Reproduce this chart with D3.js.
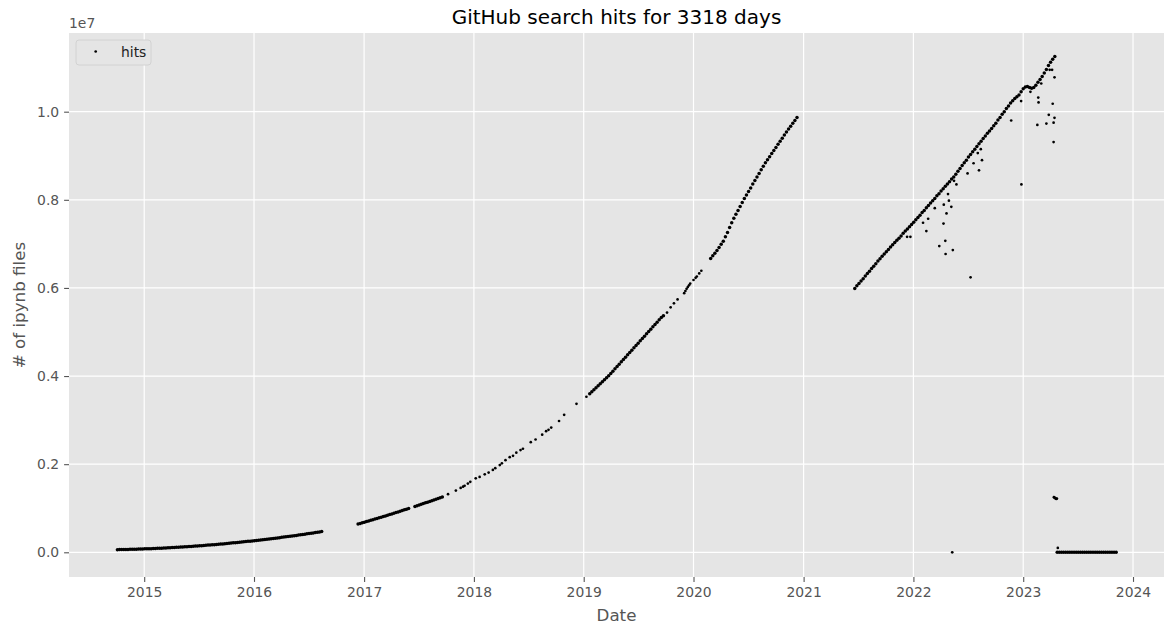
<!DOCTYPE html>
<html><head><meta charset="utf-8">
<script src="https://cdn.jsdelivr.net/npm/d3@7"></script>
<style>body{margin:0;background:#fff} svg{display:block} text{font-family:"DejaVu Sans",sans-serif}</style>
</head><body><svg id="c" width="1164" height="626"></svg>
<script>
// ---------------- data (values in millions of hits) ----------------
const titleText = "GitHub search hits for 3318 days";
const xLabel = "Date";
const yLabel = "# of ipynb files";
const legendLabel = "hits";
const yTickValues = [0, 2e6, 4e6, 6e6, 8e6, 10e6];
const yTickLabels = ["0.0", "0.2", "0.4", "0.6", "0.8", "1.0"];
const xTickYears = [2015, 2016, 2017, 2018, 2019, 2020, 2021, 2022, 2023, 2024];
const xDomain = ["2014-04-26", "2024-04-13"];
const yDomain = [-0.5606e6, 11.786e6];

// weekly readings, 2014-10-04 .. 2016-08-19
const seg2014Start = "2014-10-04";
const seg2014Values = [0.060,0.061,0.062,0.063,0.064,0.065,0.067,0.068,0.070,0.071,0.073,0.074,0.076,0.078,0.080,0.081,0.083,0.085,0.088,0.090,0.092,0.094,0.097,0.099,0.102,0.104,0.107,0.110,0.112,0.115,0.118,0.121,0.124,0.127,0.131,0.134,0.137,0.141,0.144,0.148,0.151,0.155,0.159,0.163,0.166,0.170,0.174,0.179,0.183,0.187,0.191,0.196,0.200,0.204,0.209,0.214,0.218,0.223,0.228,0.233,0.238,0.243,0.248,0.253,0.259,0.264,0.269,0.275,0.280,0.286,0.291,0.297,0.303,0.309,0.315,0.321,0.327,0.333,0.339,0.345,0.352,0.358,0.365,0.371,0.378,0.384,0.391,0.398,0.405,0.412,0.419,0.426,0.433,0.440,0.448,0.455,0.462,0.470];

// weekly readings, 2016-12-12 .. 2017-09-18 (null = no data)
const seg2017Start = "2016-12-12";
const seg2017Values = [0.642,0.656,0.670,0.684,0.698,0.712,0.726,0.740,0.754,0.768,0.782,0.796,0.810,0.825,0.841,0.856,0.871,0.887,0.902,0.917,0.932,0.948,0.963,0.978,0.994,null,null,1.040,1.056,1.072,1.089,1.105,1.122,1.138,1.155,1.171,1.187,1.204,1.220,1.237,1.255];

// isolated readings 2017-2020
const sparseDates = ["2017-10-07","2017-11-02","2017-11-18","2017-11-26","2017-12-01","2017-12-12","2017-12-20","2018-01-07","2018-01-20","2018-02-06","2018-02-19","2018-03-05","2018-03-13","2018-03-28","2018-04-04","2018-04-16","2018-04-30","2018-05-11","2018-05-22","2018-06-05","2018-06-13","2018-07-09","2018-07-25","2018-08-16","2018-08-29","2018-09-06","2018-09-15","2018-10-11","2018-10-28","2018-12-08","2019-01-10","2019-10-05","2019-10-17","2019-10-28","2019-11-09","2019-12-01","2019-12-05","2019-12-09","2019-12-13","2019-12-17","2019-12-21","2020-01-01","2020-01-08","2020-01-12","2020-01-20","2020-01-27"];
const sparseValues = [1.32,1.40,1.46,1.49,1.51,1.56,1.60,1.68,1.71,1.77,1.81,1.87,1.91,1.98,2.02,2.09,2.16,2.19,2.26,2.32,2.35,2.50,2.56,2.67,2.75,2.78,2.83,2.98,3.12,3.37,3.53,5.44,5.56,5.65,5.74,5.88,5.93,5.98,6.02,6.06,6.10,6.18,6.23,6.26,6.33,6.39];

// weekly readings, 2019-01-21 .. 2019-09-23
const seg2019Start = "2019-01-21";
const seg2019Values = [3.600,3.645,3.690,3.735,3.780,3.825,3.870,3.915,3.960,4.005,4.058,4.111,4.164,4.217,4.270,4.323,4.376,4.429,4.482,4.535,4.588,4.641,4.694,4.747,4.800,4.853,4.906,4.959,5.012,5.065,5.118,5.171,5.224,5.277,5.330,5.370];

// weekly readings, 2020-02-27 .. 2020-12-10
const seg2020Start = "2020-02-27";
const seg2020Values = [6.67,6.73,6.79,6.85,6.92,6.99,7.06,7.16,7.26,7.37,7.48,7.58,7.67,7.76,7.85,7.94,8.03,8.11,8.19,8.27,8.36,8.44,8.52,8.60,8.68,8.76,8.84,8.91,8.98,9.05,9.12,9.19,9.26,9.33,9.40,9.47,9.54,9.61,9.67,9.74,9.80,9.87];

// weekly readings, 2021-06-20 .. 2023-04-16
const seg2021Start = "2021-06-20";
const seg2021Values = [5.99,6.05,6.10,6.16,6.21,6.27,6.33,6.38,6.44,6.49,6.55,6.61,6.66,6.72,6.77,6.82,6.87,6.93,6.98,7.03,7.08,7.13,7.18,7.24,7.29,7.34,7.39,7.44,7.49,7.55,7.60,7.65,7.71,7.76,7.82,7.87,7.93,7.98,8.03,8.09,8.14,8.20,8.25,8.31,8.36,8.41,8.47,8.52,8.58,8.65,8.71,8.78,8.84,8.90,8.97,9.03,9.09,9.15,9.21,9.27,9.33,9.39,9.45,9.51,9.56,9.62,9.68,9.74,9.81,9.87,9.94,10.00,10.07,10.13,10.20,10.25,10.30,10.34,10.38,10.45,10.52,10.56,10.57,10.55,10.53,10.55,10.60,10.67,10.73,10.80,10.88,10.96,11.05,11.12,11.19,11.25];

// outlying readings 2021-2023
const outlierDates = ["2021-12-11","2021-12-22","2022-02-02","2022-02-13","2022-02-19","2022-03-13","2022-03-28","2022-04-11","2022-04-12","2022-04-17","2022-04-18","2022-04-21","2022-04-26","2022-04-29","2022-05-07","2022-05-12","2022-05-16","2022-05-24","2022-06-30","2022-07-10","2022-07-20","2022-08-03","2022-08-07","2022-08-13","2022-08-17","2022-11-22","2022-12-25","2022-12-26","2023-01-25","2023-02-17","2023-02-20","2023-02-21","2023-03-02","2023-03-19","2023-03-27","2023-03-30","2023-04-07","2023-04-09","2023-04-12","2023-04-12","2023-04-15","2023-04-15","2022-05-10","2023-04-13","2023-04-15","2023-04-17","2023-04-19","2023-04-21","2023-04-23","2023-04-26"];
const outlierValues = [7.16,7.16,7.48,7.29,7.57,7.81,6.95,7.46,7.89,7.07,6.77,7.69,8.13,7.98,7.84,6.86,8.43,8.35,8.60,6.24,8.83,9.06,8.67,9.15,8.90,9.80,10.24,8.35,10.45,9.70,10.32,10.21,10.64,9.73,9.93,10.95,10.95,10.18,9.75,9.31,9.86,10.78,0.0,1.25,1.24,1.23,1.22,1.21,1.22,0.10];

// weekly readings, 2023-04-24 .. 2023-11-06
const seg2023Start = "2023-04-24";
const seg2023Values = [0,0,0,0,0,0,0,0,0,0,0,0,0,0,0,0,0,0,0,0,0,0,0,0,0,0,0,0,0];

// ---------------- build ----------------
const parse = d3.utcParse("%Y-%m-%d");
function weekly(start, vals) {
  return vals.map((v, i) => v == null ? null : { date: d3.utcDay.offset(parse(start), i * 7), value: v * 1e6, dense: true }).filter(d => d);
}
function listed(dates, vals) {
  return dates.map((d, i) => ({ date: parse(d), value: vals[i] * 1e6, dense: false }));
}
const points = [].concat(
  weekly(seg2014Start, seg2014Values),
  weekly(seg2017Start, seg2017Values),
  listed(sparseDates, sparseValues),
  weekly(seg2019Start, seg2019Values),
  weekly(seg2020Start, seg2020Values),
  weekly(seg2021Start, seg2021Values),
  listed(outlierDates, outlierValues),
  weekly(seg2023Start, seg2023Values)
);

const L = 69, R = 1164, T = 33, B = 577;
const svg = d3.select("#c");
const x = d3.scaleUtc().domain(xDomain.map(parse)).range([L, R]);
const y = d3.scaleLinear().domain(yDomain).range([B, T]);

svg.append("rect").attr("x", L).attr("y", T).attr("width", R - L).attr("height", B - T).attr("fill", "#e5e5e5");

const xTicks = xTickYears.map(yr => new Date(Date.UTC(yr, 0, 1)));
const grid = svg.append("g");
grid.selectAll(".gx").data(xTicks).join("line")
  .attr("x1", d => x(d)).attr("x2", d => x(d)).attr("y1", T).attr("y2", B)
  .attr("stroke", "#fff").attr("stroke-width", 1.2);
grid.selectAll(".gy").data(yTickValues).join("line")
  .attr("x1", L).attr("x2", R).attr("y1", d => y(d)).attr("y2", d => y(d))
  .attr("stroke", "#fff").attr("stroke-width", 1.2);

svg.append("g").selectAll("circle").data(points).join("circle")
  .attr("cx", d => x(d.date)).attr("cy", d => y(d.value)).attr("r", d => d.dense ? 1.75 : 1.35).attr("fill", "#000");

const xAxis = svg.append("g").attr("transform", `translate(0,${B})`)
  .call(d3.axisBottom(x).tickValues(xTicks).tickFormat(d3.utcFormat("%Y")).tickSize(4.9).tickPadding(4.9));
const yAxis = svg.append("g").attr("transform", `translate(${L},0)`)
  .call(d3.axisLeft(y).tickValues(yTickValues).tickFormat((d, i) => yTickLabels[i]).tickSize(4.9).tickPadding(4.9));
[xAxis, yAxis].forEach(a => {
  a.select(".domain").remove();
  a.selectAll("line").attr("stroke", "#555").attr("stroke-width", 1.1);
  a.selectAll("text").attr("fill", "#555").style("font-size", "13.9px").style("font-family", '"DejaVu Sans",sans-serif');
});

svg.append("text").attr("x", (L + R) / 2).attr("y", 24).attr("text-anchor", "middle")
  .style("font-size", "20px").attr("fill", "#000").text(titleText);
svg.append("text").attr("x", (L + R) / 2).attr("y", 621).attr("text-anchor", "middle")
  .style("font-size", "16.7px").attr("fill", "#555").text(xLabel);
svg.append("text").attr("transform", `translate(24.5,${(T + B) / 2}) rotate(-90)`).attr("text-anchor", "middle")
  .style("font-size", "16.7px").attr("fill", "#555").text(yLabel);
svg.append("text").attr("x", L).attr("y", 28).style("font-size", "13.9px").attr("fill", "#555").text("1e7");

// legend
const lg = svg.append("g");
lg.append("rect").attr("x", 76).attr("y", 40).attr("width", 75).attr("height", 25).attr("rx", 3)
  .attr("fill", "#e5e5e5").attr("stroke", "#d2d2d2").attr("stroke-width", 1);
lg.append("circle").attr("cx", 95.7).attr("cy", 51.5).attr("r", 1.35).attr("fill", "#000");
lg.append("text").attr("x", 121).attr("y", 57).style("font-size", "13.9px").attr("fill", "#222").text(legendLabel);
</script></body></html>
